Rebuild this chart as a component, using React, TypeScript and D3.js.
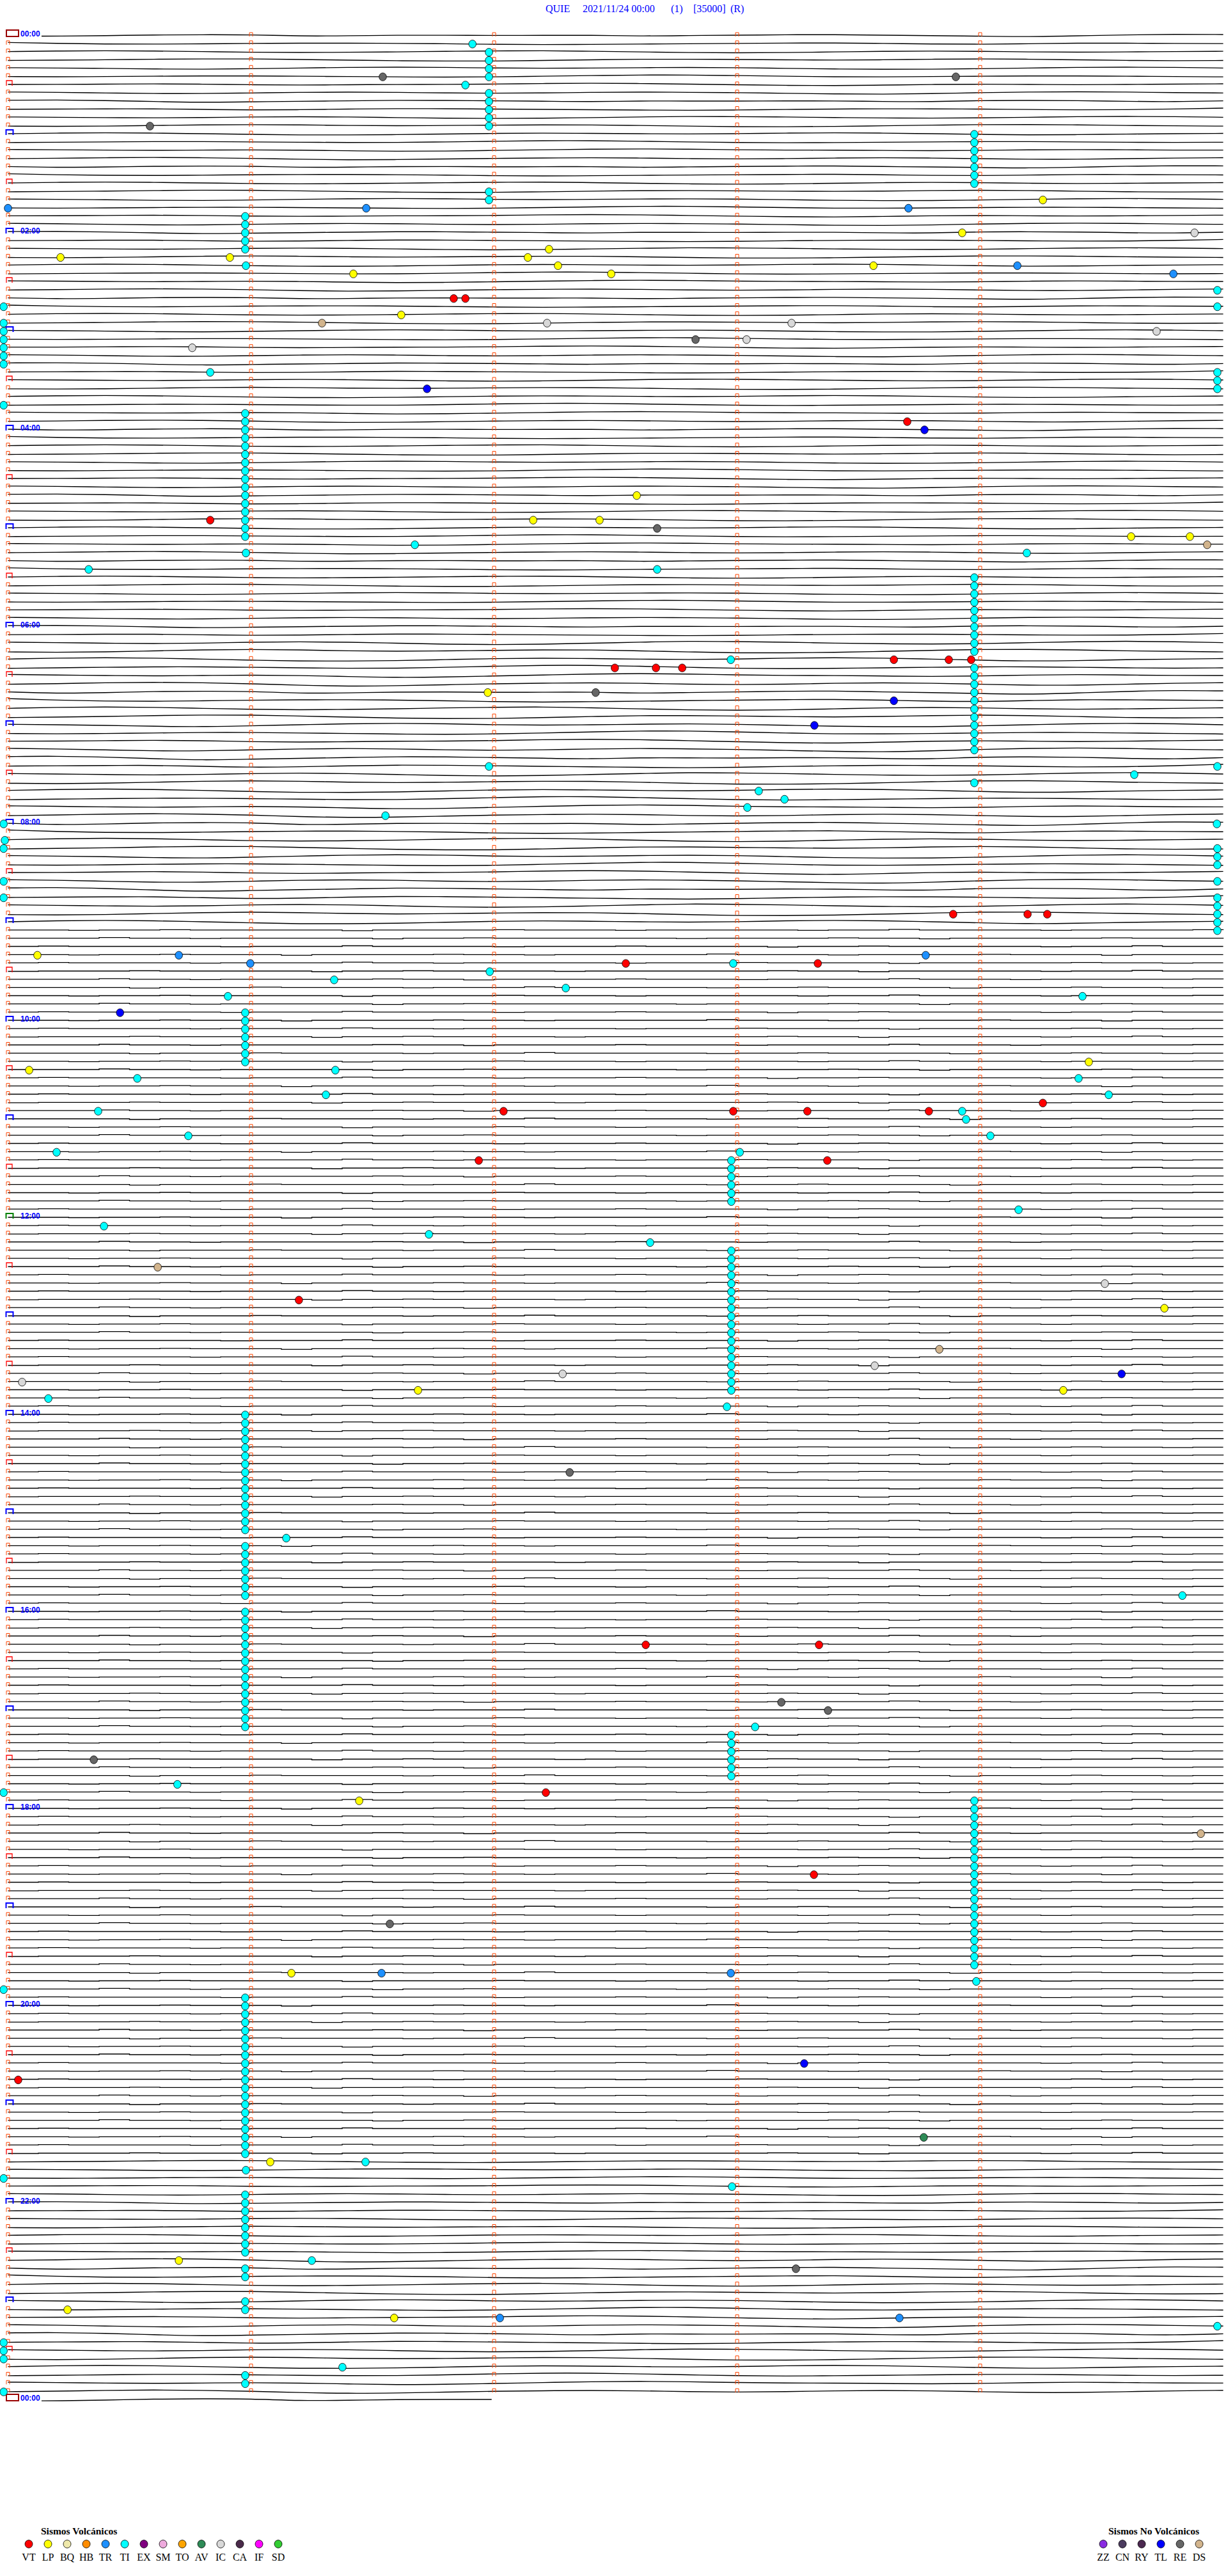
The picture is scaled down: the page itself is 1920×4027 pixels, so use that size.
import * as d3 from "d3";
import {useEffect, useRef} from "react";

const WIDTH = 1920;
const HEIGHT = 4027;
const ROWS = 289;            // 24 h of 5-minute lines + the closing 00:00 line
const MINUTES_PER_ROW = 5;

const titleParts = ["QUIE", "2021/11/24 00:00", "(1)", "[35000]", "(R)"];
const hourLabels = ["00:00", "02:00", "04:00", "06:00", "08:00", "10:00", "12:00",
    "14:00", "16:00", "18:00", "20:00", "22:00", "00:00"];

const volcanicTypes = [
    {code: "VT", color: "#ff0000"}, {code: "LP", color: "#ffff00"}, {code: "BQ", color: "#eee8aa"},
    {code: "HB", color: "#ff8c00"}, {code: "TR", color: "#1e90ff"}, {code: "TI", color: "#00ffff"},
    {code: "EX", color: "#800080"}, {code: "SM", color: "#eeaadd"}, {code: "TO", color: "#ffa500"},
    {code: "AV", color: "#2e8b57"}, {code: "IC", color: "#d8d8d8"}, {code: "CA", color: "#4a2a4a"},
    {code: "IF", color: "#ff00ff"}, {code: "SD", color: "#32cd32"},
];
const nonVolcanicTypes = [
    {code: "ZZ", color: "#8a2be2"}, {code: "CN", color: "#4b3b5e"}, {code: "RY", color: "#4b2850"},
    {code: "TL", color: "#0000ff"}, {code: "RE", color: "#666666"}, {code: "DS", color: "#d2b48c"},
];

// vertical runs of TI events: [first row, last row, minute within the row]
const tiStacks: [number, number, number][] = [
    [2, 5, 1.979], [7, 11, 1.979], [19, 20, 1.979],
    [12, 18, 3.976], [66, 75, 3.976], [77, 87, 3.976], [215, 235, 3.976],
    [22, 26, 0.976], [46, 61, 0.976], [119, 125, 0.976], [168, 182, 0.976], [184, 190, 0.976],
    [192, 206, 0.976], [239, 258, 0.976], [263, 270, 0.976], [272, 273, 0.976], [276, 277, 0.976],
    [285, 286, 0.976],
    [137, 142, 2.976], [148, 165, 2.976], [207, 212, 2.976],
    [35, 40, -0.018], [281, 283, -0.018],
    [41, 43, 4.976], [99, 101, 4.976], [105, 109, 4.976],
];

// single events: [row, minute within the row, type]
const events: [number, number, string][] = [
    [1, 1.911, "TI"], [5, 1.542, "RE"], [5, 3.900, "RE"], [6, 1.882, "TI"], [11, 0.584, "RE"],
    [20, 4.258, "LP"], [21, 0, "TR"], [21, 1.474, "TR"], [21, 3.705, "TR"],
    [24, 3.926, "LP"], [24, 4.882, "IC"], [26, 2.226, "LP"],
    [27, 0.216, "LP"], [27, 0.913, "LP"], [27, 2.139, "LP"],
    [28, 0.979, "TI"], [28, 2.263, "LP"], [28, 3.561, "LP"], [28, 4.153, "TR"],
    [29, 1.421, "LP"], [29, 2.482, "LP"], [29, 4.795, "TR"],
    [31, 4.976, "TI"], [32, 1.834, "VT"], [32, 1.882, "VT"],
    [33, -0.018, "TI"], [33, 4.976, "TI"], [34, 1.618, "LP"],
    [35, 1.292, "DS"], [35, 2.218, "IC"], [35, 3.224, "IC"], [36, 4.726, "IC"],
    [37, 2.829, "RE"], [37, 3.039, "IC"], [38, 0.758, "IC"], [41, 0.832, "TI"], [43, 1.724, "TL"],
    [45, -0.018, "TI"], [47, 3.700, "VT"], [48, 3.771, "TL"], [56, 2.587, "LP"],
    [59, 0.832, "VT"], [59, 2.161, "LP"], [59, 2.434, "LP"], [60, 2.671, "RE"],
    [61, 4.621, "LP"], [61, 4.863, "LP"], [62, 4.934, "DS"], [62, 1.674, "TI"],
    [63, 0.979, "TI"], [63, 4.192, "TI"], [65, 0.332, "TI"], [65, 2.671, "TI"],
    [76, 3.645, "VT"], [76, 3.871, "VT"], [76, 3.963, "VT"], [76, 2.974, "TI"],
    [77, 2.497, "VT"], [77, 2.666, "VT"], [77, 2.774, "VT"],
    [80, 1.974, "LP"], [80, 2.418, "RE"], [81, 3.645, "TL"], [84, 3.318, "TL"],
    [89, 1.979, "TI"], [89, 4.976, "TI"], [90, 4.634, "TI"], [91, 3.976, "TI"],
    [92, 3.089, "TI"], [93, 3.195, "TI"], [94, 3.042, "TI"], [95, 1.553, "TI"],
    [96, -0.018, "TI"], [96, 4.974, "TI"], [98, -0.013, "TI"], [99, -0.018, "TI"],
    [103, -0.018, "TI"], [103, 4.976, "TI"], [105, -0.018, "TI"],
    [107, 3.889, "VT"], [107, 4.195, "VT"], [107, 4.276, "VT"],
    [112, 0.121, "LP"], [112, 0.703, "TR"], [112, 3.776, "TR"],
    [113, 0.997, "TR"], [113, 2.542, "VT"], [113, 2.984, "TI"], [113, 3.332, "VT"],
    [114, 1.982, "TI"], [115, 1.342, "TI"], [116, 2.295, "TI"], [117, 0.905, "TI"], [117, 4.421, "TI"],
    [119, 0.461, "TL"], [125, 4.447, "LP"], [126, 0.087, "LP"], [126, 1.347, "TI"],
    [127, 0.532, "TI"], [127, 4.405, "TI"], [129, 1.308, "TI"], [129, 4.529, "TI"], [130, 4.258, "VT"],
    [131, 0.371, "TI"], [131, 2.039, "VT"], [131, 2.984, "VT"], [131, 3.289, "VT"], [131, 3.789, "VT"],
    [131, 3.926, "TI"], [132, 3.942, "TI"], [134, 0.742, "TI"], [134, 4.042, "TI"],
    [136, 0.2, "TI"], [136, 3.011, "TI"], [137, 1.937, "VT"], [137, 3.371, "VT"],
    [143, 4.158, "TI"], [145, 0.395, "TI"], [146, 1.732, "TI"], [147, 2.642, "TI"], [150, 0.616, "DS"],
    [152, 4.513, "IC"], [154, 1.197, "VT"], [155, 4.758, "LP"], [160, 3.832, "DS"], [162, 3.566, "IC"],
    [163, 2.282, "IC"], [163, 4.582, "TL"], [164, 0.058, "IC"], [165, 1.687, "LP"], [165, 4.342, "LP"],
    [166, 0.166, "TI"], [167, 2.958, "TI"], [175, 2.311, "RE"], [183, 1.145, "TI"], [190, 4.832, "TI"],
    [196, 2.624, "VT"], [196, 3.337, "VT"], [203, 3.182, "RE"], [204, 3.374, "RE"], [206, 3.074, "TI"],
    [210, 0.353, "RE"], [213, 0.697, "TI"], [214, -0.018, "TI"], [214, 2.213, "VT"], [215, 1.445, "LP"],
    [219, 4.908, "DS"], [224, 3.316, "VT"], [230, 1.571, "RE"],
    [236, 1.166, "LP"], [236, 1.537, "TR"], [236, 2.974, "TR"], [237, 3.984, "TI"], [238, -0.018, "TI"],
    [247, 3.276, "TL"], [249, 0.042, "VT"], [256, 3.768, "AV"],
    [259, 1.079, "LP"], [259, 1.471, "TI"], [260, 0.979, "TI"], [261, -0.018, "TI"], [262, 2.979, "TI"],
    [271, 0.703, "LP"], [271, 1.25, "TI"], [272, 3.242, "RE"], [277, 0.245, "LP"],
    [278, 1.589, "LP"], [278, 2.024, "TR"], [278, 3.668, "TR"], [279, 4.976, "TI"],
    [284, 1.376, "TI"], [287, -0.018, "TI"],
];

// trace shapes (pixel offsets, 26 samples across the 5 minutes)
const waveProfiles = [
    [0, 1.5, 0.8, -0.5, -0.7, -0.7, 1.5, 1, 0, 0, 0.5, 0.3, 0, 1.5, 0.5, 0, -0.7, -1, 0, 0.7, 1.5, 2.5, 1, -0.5, -1.5, -1],
    [-1.5, 0, 1, 1.2, 0.7, 0, -0.3, -0.5, 0, 0.5, 1.5, 2, 1.5, 1, 0.5, 0, -0.5, -0.8, 0, 1, 1.5, 0.5, -0.5, -0.3, 0, 0.3],
    [0, -1, -1.5, -1, 0, 1, 1.5, 1, 0.5, -0.5, -1, -1.5, -0.5, 0.5, 1.5, 2, 1.5, 0.5, -0.5, -1, -0.5, 0.5, 1, 0.5, 0, -0.5],
    [1, 0.5, 0, -1, -1.5, -1.5, -0.5, 0.5, 1.5, 2, 2, 1, 0, -1, -1, -0.5, 0, 0.5, 0, -1, -1.5, -1, 0, 1, 1.5, 1],
    [-0.5, 0, 0.5, 1.5, 2, 1, 0, -1, -1.5, -1, 0, 0.5, 0, -0.5, -1, -0.5, 0.5, 1.5, 2, 2, 1, 0, -1, -1.5, -1, 0],
    [0.5, 1, 0.5, 0, -0.5, -0.5, 0, 0.5, 1, 1.5, 1, 0, -1, -2, -2, -1, 0, 1, 1, 0.5, 0, -0.5, -0.5, 0, 0.5, 1],
    [0, 0, -0.5, -1, -0.5, 0.5, 1, 0.5, 0, 0, -0.5, -1.5, -2, -1.5, -0.5, 0.5, 1.5, 2, 1, 0, -0.5, 0, 0.5, 0, -0.5, -1],
    [-1, -0.5, 0.5, 1.5, 1.5, 0.5, -0.5, -1, -0.5, 0.5, 1, 0.5, -0.5, -1, -0.5, 0, 1, 2, 2.5, 1.5, 0, -1, -1.5, -1, 0, 0.5],
];
// quiet noisy lines (41 samples)
const quietProfiles = [
    [0, 0, 0.5, 0, 0, -0.5, 0, 0, 0, 1, 0, 0, 0, 0, -0.5, 0, 0, 0.5, 0, 0, 0, 0, 0, -1, 0, 0, 0, 0.5, 0, 0, 0, 0, -0.5, 0, 0, 0, 1, 0, 0, 0, 0],
    [0, -0.5, 0, 0, 0, 0, 0.5, 0, 0, 0, 0, -1, 0, 0, 0.5, 0, 0, 0, 0, 0, 0.5, 0, 0, 0, -0.5, 0, 0, 0, 0, 1, 0, 0, 0, 0, 0, -0.5, 0, 0, 0.5, 0, 0],
    [0.5, 0, 0, 0, -0.5, 0, 0, 0, 0, 0, 1, 0, 0, -0.5, 0, 0, 0, 0, 0.5, 0, 0, 0, 0, 0, 0, -0.5, 0, 0, 1, 0, 0, 0, 0, 0, 0.5, 0, 0, -1, 0, 0, 0],
    [0, 0, 0, -1, 0, 0, 0.5, 0, 0, 0, 0, 0, -0.5, 0, 0, 1, 0, 0, 0, 0, -0.5, 0, 0, 0, 0.5, 0, 0, 0, 0, -1, 0, 0, 0, 0.5, 0, 0, 0, 0, 0, -0.5, 0],
];
const traceRegimes = [
    {from: 0, to: 73, kind: "wave", amp: 1},
    {from: 74, to: 108, kind: "wave", amp: 1.6},
    {from: 109, to: 258, kind: "quiet", amp: 1},
    {from: 259, to: 270, kind: "wave", amp: 0.9},
    {from: 271, to: 288, kind: "wave", amp: 1.4},
];

const colorOf = new Map([...volcanicTypes, ...nonVolcanicTypes].map(t => [t.code, t.color]));

const App = () => {
    const svgRef = useRef(null);

    useEffect(() => {
        if (!svgRef.current) return;
        const svg = d3.select(svgRef.current);
        svg.selectAll("*").remove();

        // minute within the line -> x, line index -> y
        const x = d3.scaleLinear().domain([0, MINUTES_PER_ROW]).range([12.5, 1912.5]);
        const y = d3.scaleLinear().domain([0, ROWS - 1]).range([55, 3751]);

        svg.append("rect").attr("width", WIDTH).attr("height", HEIGHT).attr("fill", "#fff");

        // title
        const titleX = [853, 911, 1049, 1084, 1142];
        svg.append("g")
            .selectAll("text")
            .data(titleParts)
            .enter()
            .append("text")
            .attr("x", (d, i) => titleX[i])
            .attr("y", 19)
            .attr("font-family", "'Liberation Serif', 'Times New Roman', serif")
            .attr("font-size", 16)
            .attr("fill", "#0000ff")
            .text(d => d);

        // traces
        const traceLine = d3.line<[number, number]>().x(d => x(d[0])).y(d => d[1]);
        const traces = svg.append("g")
            .attr("fill", "none")
            .attr("stroke", "#000")
            .attr("stroke-width", 1.4);
        d3.range(ROWS).forEach(r => {
            const regime = traceRegimes.find(g => r >= g.from && r <= g.to)!;
            const set = regime.kind === "wave" ? waveProfiles : quietProfiles;
            let prof = set[r % set.length];
            if (Math.floor(r / set.length) % 2 === 1) prof = [...prof].reverse();
            const start = (r === 0 || r === ROWS - 1) ? 0.138 : 0;
            const end = r === ROWS - 1 ? 1.99 : MINUTES_PER_ROW;
            const step = MINUTES_PER_ROW / (prof.length - 1);
            const pts: [number, number][] = [];
            prof.forEach((v, i) => {
                const m = i * step;
                if (m >= start && m <= end) pts.push([m, y(r) + v * regime.amp]);
            });
            pts.unshift([start, pts[0][1]]);
            pts.push([end, pts[pts.length - 1][1]]);
            traces.append("path")
                .attr("d", traceLine.curve(regime.kind === "wave" ? d3.curveBasis : d3.curveStepAfter)(pts));
        });

        // minute ticks and hour / half hour brackets
        const marks = svg.append("g").attr("fill", "none");
        const bracket = (x0: number, x1: number, y0: number, y1: number) =>
            `M${x0},${y1}V${y0}H${x1}V${y1}`;
        d3.range(ROWS).forEach(r => {
            const yy = y(r);
            if (r % 12 === 0) {
                if (r === 0 || r === ROWS - 1) {
                    marks.append("rect").attr("x", 10).attr("y", yy - 8).attr("width", 19).attr("height", 10)
                        .attr("stroke", "#990000").attr("stroke-width", 2);
                } else {
                    marks.append("path").attr("d", bracket(9.5, 20.5, yy - 6, yy + 2))
                        .attr("stroke", r === 144 ? "#008000" : "#0000ff").attr("stroke-width", 2);
                }
            } else if (r % 12 === 6) {
                marks.append("path").attr("d", bracket(10, 19, yy - 6, yy + 2))
                    .attr("stroke", "#ff0000").attr("stroke-width", 1.3);
            } else {
                marks.append("path").attr("d", bracket(x(0) - 2.5, x(0) + 2.5, yy - 4, yy + 2))
                    .attr("stroke", "#ff4500").attr("stroke-width", 1);
            }
            if (r < ROWS - 1) {
                [1, 2, 3, 4].forEach(k => {
                    marks.append("path").attr("d", bracket(x(k) - 2.5, x(k) + 2.5, yy - 4, yy + 2))
                        .attr("stroke", "#ff4500").attr("stroke-width", 1);
                });
            }
        });

        // hour labels
        svg.append("g")
            .selectAll("text")
            .data(hourLabels)
            .enter()
            .append("text")
            .attr("x", 32)
            .attr("y", (d, i) => y(i * 24) + 1.5)
            .attr("font-family", "'Liberation Sans', Arial, sans-serif")
            .attr("font-weight", "bold")
            .attr("font-size", 12)
            .attr("fill", "#0000ff")
            .text(d => d);

        // events
        const stacked: [number, number, string][] = tiStacks.flatMap(([a, b, m]) =>
            d3.range(a, b + 1).map(r => [r, m, "TI"] as [number, number, string]));
        svg.append("g")
            .selectAll("ellipse")
            .data([...stacked, ...events])
            .enter()
            .append("ellipse")
            .attr("cx", d => x(d[1]))
            .attr("cy", d => y(d[0]) + 1)
            .attr("rx", 5.8)
            .attr("ry", 6.2)
            .attr("fill", d => colorOf.get(d[2]) ?? "#000")
            .attr("stroke", "#000")
            .attr("stroke-width", 0.8);

        // legends
        const legend = (types: { code: string; color: string }[], title: string, x0: number, titleX0: number) => {
            const g = svg.append("g").attr("font-family", "'Liberation Serif', 'Times New Roman', serif");
            g.append("text").attr("x", titleX0).attr("y", 3962)
                .attr("font-size", 15.5).attr("font-weight", "bold").text(title);
            const items = g.selectAll("g.item").data(types).enter().append("g").attr("class", "item")
                .attr("transform", (d, i) => `translate(${x0 + i * 30},0)`);
            items.append("ellipse").attr("cy", 3977).attr("rx", 6).attr("ry", 6.2)
                .attr("fill", d => d.color).attr("stroke", "#000").attr("stroke-width", 0.8);
            items.append("text").attr("y", 4003).attr("text-anchor", "middle").attr("font-size", 16)
                .text(d => d.code);
        };
        legend(volcanicTypes, "Sismos Volcánicos", 45, 64);
        legend(nonVolcanicTypes, "Sismos No Volcánicos", 1725, 1733);
    }, []);

    return <div style={{position: "absolute", left: 0, top: 0}}>
        <svg ref={svgRef} width={WIDTH} height={HEIGHT} style={{display: "block"}}></svg>
    </div>;
};

export default App;
